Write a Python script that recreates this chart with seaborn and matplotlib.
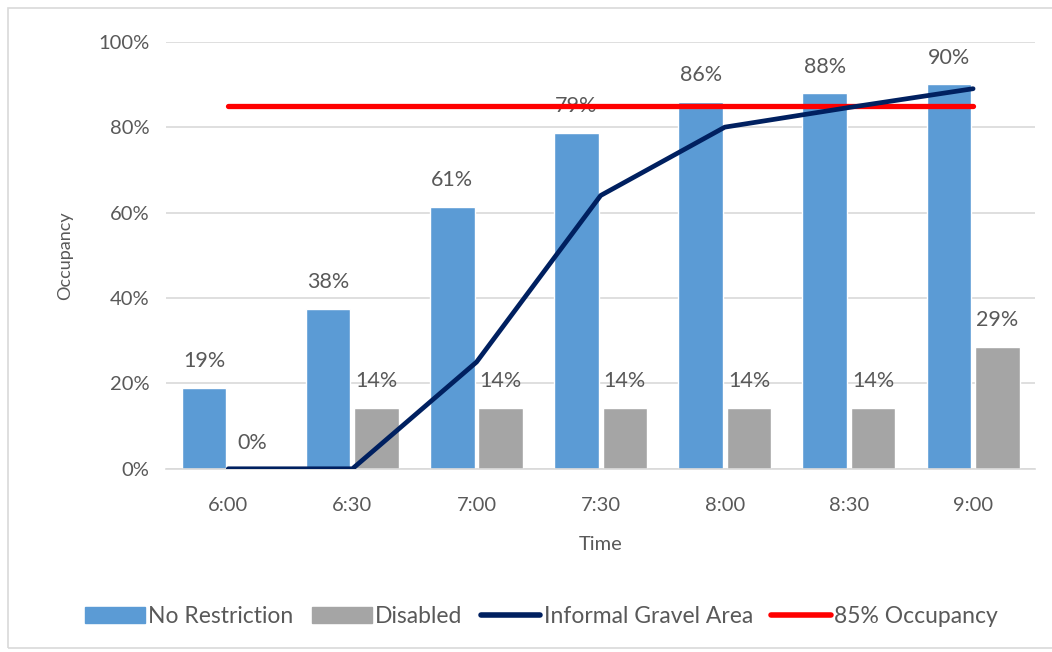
import numpy as np
import pandas as pd
import matplotlib
matplotlib.use("Agg")
import matplotlib.pyplot as plt
import seaborn as sns
from matplotlib.patches import Patch, Rectangle
from matplotlib.lines import Line2D

# data
times = ["6:00", "6:30", "7:00", "7:30", "8:00", "8:30", "9:00"]
no_restriction = [0.19, 0.375, 0.614, 0.787, 0.86, 0.88, 0.90]
disabled = [0.0, 0.143, 0.143, 0.143, 0.143, 0.143, 0.286]
gravel = [0.0, 0.0, 0.25, 0.64, 0.80, 0.846, 0.89]
target = 0.85
series_names = ["No Restriction", "Disabled", "Informal Gravel Area", "85% Occupancy"]

sns.set_theme(style="white")
plt.rcParams["font.family"] = ["Lato", "DejaVu Sans"]
txt = "#595959"
fs = 14.5

df = pd.DataFrame({
    "Time": times * 2,
    "Occupancy": no_restriction + disabled,
    "Series": [series_names[0]] * len(times) + [series_names[1]] * len(times),
})

fig = plt.figure(figsize=(10.52, 6.52), dpi=100)
ax = fig.add_axes([0.158, 0.281, 0.826, 0.655])

sns.barplot(data=df, x="Time", y="Occupancy", hue="Series",
            palette=["#5B9BD5", "#A5A5A5"], width=0.78, gap=0.08,
            saturation=1, legend=False, ax=ax, zorder=2)

pos = np.arange(len(times))
sns.lineplot(x=pos, y=gravel, color="#002060", linewidth=3.4, ax=ax, zorder=5)
sns.lineplot(x=pos, y=[target] * len(times), color="#FF0000", linewidth=3.8, ax=ax, zorder=4)

# data labels
for i in range(len(times)):
    ax.text(i - 0.195, no_restriction[i] + 0.038, f"{no_restriction[i]:.0%}",
            ha="center", va="bottom", fontsize=15.5, color=txt, zorder=3)
    ax.text(i + 0.195, disabled[i] + 0.038, f"{disabled[i]:.0%}",
            ha="center", va="bottom", fontsize=15.5, color=txt, zorder=3)

ax.set_ylim(0, 1)
ax.set_xlim(-0.5, len(times) - 0.5)
ax.set_yticks(np.arange(0, 1.01, 0.2))
ax.set_yticklabels([f"{int(v * 100)}%" for v in np.arange(0, 1.01, 0.2)])
ax.yaxis.grid(True, color="#D9D9D9", linewidth=1.2, zorder=0)
ax.set_axisbelow(True)
for s in ["top", "right", "left"]:
    ax.spines[s].set_visible(False)
ax.spines["bottom"].set_color("#D9D9D9")
ax.spines["bottom"].set_linewidth(1.2)
ax.tick_params(axis="y", length=0, labelsize=fs, colors=txt, pad=12)
ax.tick_params(axis="x", length=0, labelsize=fs, colors=txt, pad=20)
ax.set_xlabel("Time", fontsize=fs, color=txt, labelpad=16)
ax.set_ylabel("Occupancy", fontsize=13, color=txt, labelpad=18)

handles = [Patch(color="#5B9BD5"), Patch(color="#A5A5A5"),
           Line2D([], [], color="#002060", linewidth=4),
           Line2D([], [], color="#FF0000", linewidth=4)]
fig.legend(handles, series_names, loc="center", bbox_to_anchor=(0.515, 0.054),
           ncol=4, frameon=False, fontsize=16.5, labelcolor=txt,
           handlelength=2.6, handletextpad=0.15, columnspacing=0.8)

fig.patches.append(Rectangle((0.008, 0.006), 1.0, 0.982, transform=fig.transFigure,
                             fill=False, edgecolor="#D9D9D9", linewidth=1.2))

fig.savefig("out.png", dpi=100)
